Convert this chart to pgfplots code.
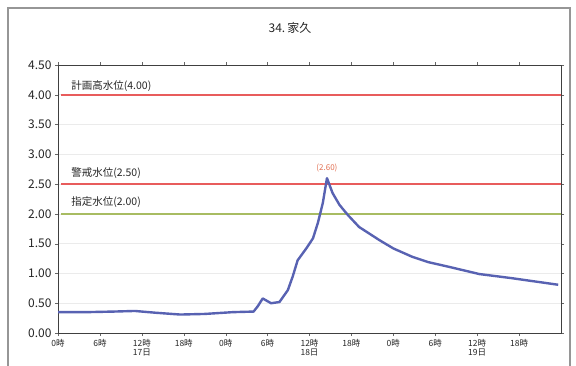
\documentclass[border=0pt]{standalone}
\usepackage{pgfplots}
\pgfplotsset{compat=1.18}
\usepackage{fontspec}
\setmainfont{Noto Sans CJK JP}[BoldFont={Noto Sans CJK JP Bold}]
\definecolor{serie}{RGB}{88,98,178}
\definecolor{redline}{RGB}{232,92,92}
\definecolor{greenline}{RGB}{168,188,98}
\definecolor{frame}{RGB}{150,150,150}
\definecolor{peak}{RGB}{225,110,80}
\begin{document}
\begin{tikzpicture}[x=1pt,y=1pt]
\useasboundingbox (0,0) rectangle (576,365);
\draw[frame, line width=1.2pt] (8,-5) -- (8,357) -- (570,357) -- (570,-5);
\node[font=\fontsize{12}{14}\selectfont, text=black!85] at (290,337) {34.\,家久};
\begin{axis}[
  at={(58pt,32pt)}, anchor=south west,
  scale only axis, width=503pt, height=268pt,
  xmin=0, xmax=72, ymin=0, ymax=4.5,
  xtick={0,6,12,18,24,30,36,42,48,54,60,66},
  xticklabels={0時,6時,{12時\\17日},18時,0時,6時,{12時\\18日},18時,0時,6時,{12時\\19日},18時},
  xticklabel style={align=center, font=\fontsize{8.5}{9}\selectfont, text=black!85, anchor=north},
  ytick={0,0.5,...,4.5},
  yticklabel style={font=\fontsize{12}{14}\selectfont, text=black!85,
    /pgf/number format/fixed, /pgf/number format/fixed zerofill,
    /pgf/number format/precision=2, /pgf/number format/assume math mode=true},
  tick align=outside, major tick length=3pt,
  tick style={black!60},
  axis line style={black!75, line width=1pt},
  ymajorgrids, grid style={black!8, line width=0.6pt},
  clip=false,
]
\addplot[redline, line width=1.8pt] coordinates {(0.5,4.0) (72,4.0)};
\addplot[redline, line width=1.8pt] coordinates {(0.5,2.5) (72,2.5)};
\addplot[greenline, line width=1.8pt] coordinates {(0.5,2.0) (72,2.0)};
\addplot[serie, line width=2.4pt, line join=round] coordinates {
(0,0.35) (4,0.35) (8,0.36) (11,0.37) (14,0.34) (17.5,0.31) (21,0.32) (25,0.35) (28,0.36)
(28.6,0.45) (29.3,0.58) (30.5,0.50) (31.7,0.52) (32.9,0.72) (33.6,0.95) (34.3,1.22)
(35.6,1.43) (36.5,1.59) (37.2,1.85) (37.9,2.18) (38.5,2.60) (39.3,2.35) (40.3,2.15)
(41.5,1.98) (43.1,1.78) (46,1.56) (48,1.42) (50.7,1.28) (53,1.19) (56,1.11) (60.3,0.99)
(63,0.95) (65,0.92) (68,0.87) (71.6,0.81)
};
\node[anchor=west, font=\fontsize{10.5}{12}\selectfont, text=black!85] at (axis cs:1.4,4.14) {計画高水位(4.00)};
\node[anchor=west, font=\fontsize{10.5}{12}\selectfont, text=black!85] at (axis cs:1.4,2.69) {警戒水位(2.50)};
\node[anchor=west, font=\fontsize{10.5}{12}\selectfont, text=black!85] at (axis cs:1.4,2.19) {指定水位(2.00)};
\node[anchor=south, font=\fontsize{8}{9}\selectfont, text=peak] at (axis cs:38.5,2.64) {(2.60)};
\end{axis}
\end{tikzpicture}
\end{document}
